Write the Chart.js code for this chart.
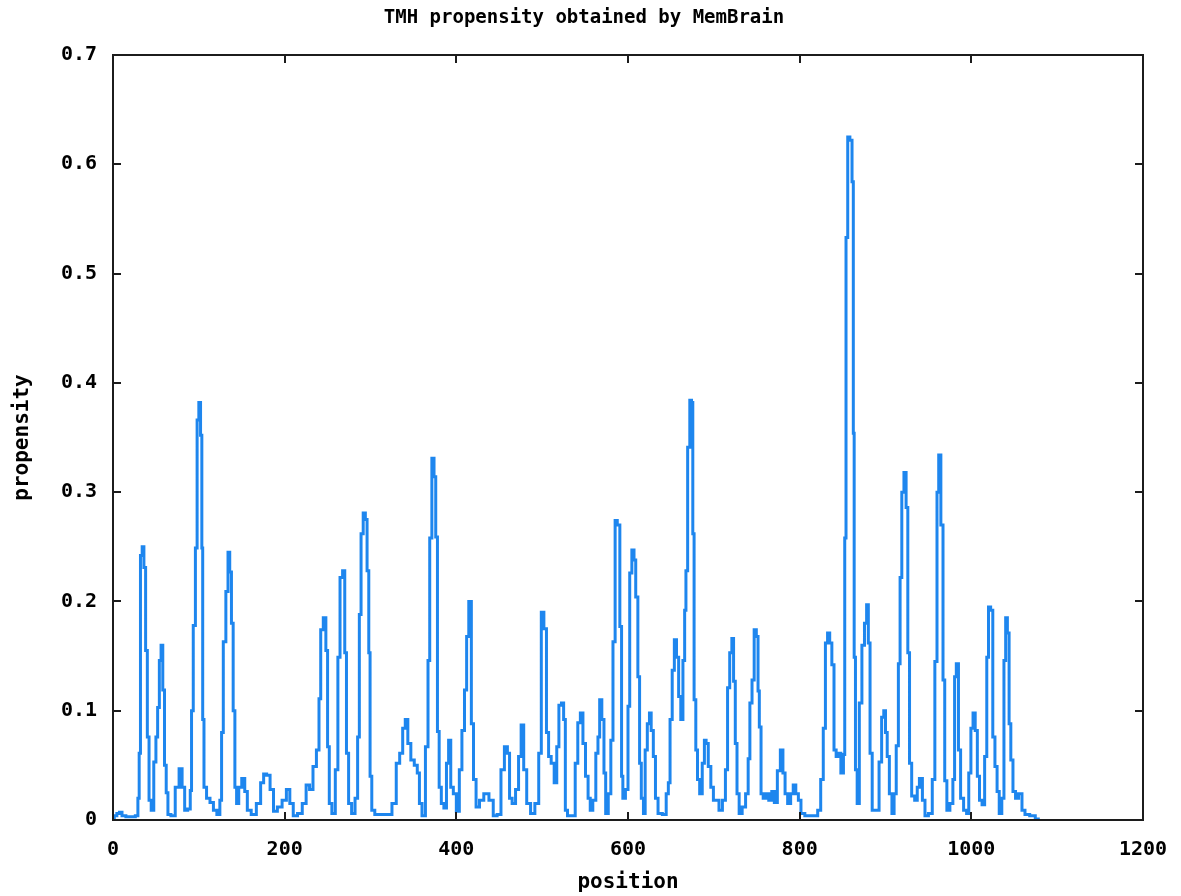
<!DOCTYPE html>
<html>
<head>
<meta charset="utf-8">
<title>TMH propensity obtained by MemBrain</title>
<script src="https://cdn.jsdelivr.net/npm/chart.js@4.4.1/dist/chart.umd.min.js"></script>
<style>
    html, body { margin: 0; padding: 0; background: #ffffff; }
    #wrap { width: 1181px; height: 896px; }
</style>
</head>
<body>
<div id="wrap"><canvas id="tmh-chart" width="1181" height="896"></canvas></div>
<script>
// Values (residue position -> propensity)
const positions = [
    0, 3, 6, 9, 12, 18, 24, 28, 30, 31, 33, 35, 37, 39, 41, 43, 46, 49, 51, 53,
    55, 57, 59, 61, 63, 65, 70, 75, 79, 82, 85, 89, 91, 92, 95, 97, 99, 101, 103, 104,
    105, 107, 111, 115, 119, 123, 126, 127, 130, 133, 135, 137, 139, 141, 143, 145, 148, 152, 155, 158,
    164, 170, 174, 177, 181, 185, 189, 194, 200, 204, 208, 212, 218, 223, 227, 231, 235, 239, 241, 243,
    247, 249, 251, 253, 257, 261, 263, 266, 269, 271, 273, 276, 280, 284, 286, 288, 290, 293, 295, 297,
    299, 300, 303, 307, 315, 322, 328, 332, 336, 339, 342, 345, 349, 353, 356, 358, 362, 366, 368, 370,
    373, 375, 377, 379, 381, 384, 387, 390, 392, 395, 398, 402, 405, 408, 411, 413, 416, 419, 421, 425,
    429, 435, 441, 445, 450, 454, 458, 461, 463, 467, 471, 474, 477, 480, 484, 489, 494, 498, 500, 504,
    506, 509, 512, 516, 518, 521, 524, 526, 528, 531, 537, 540, 543, 546, 549, 552, 555, 557, 561, 564,
    566, 568, 571, 573, 575, 579, 581, 584, 586, 589, 592, 593, 595, 599, 601, 603, 606, 608, 610, 613,
    614, 617, 619, 621, 624, 626, 628, 631, 633, 637, 643, 646, 648, 650, 653, 655, 658, 660, 663, 665,
    667, 668, 671, 673, 675, 676, 678, 680, 682, 685, 688, 690, 692, 695, 698, 701, 704, 708, 712, 715,
    717, 720, 722, 724, 726, 728, 731, 735, 739, 741, 743, 746, 748, 751, 752, 754, 756, 759, 762, 766,
    769, 772, 776, 779, 782, 784, 788, 791, 794, 797, 800, 803, 809, 819, 823, 826, 829, 831, 834, 836,
    839, 841, 844, 846, 850, 852, 853, 855, 857, 860, 862, 863, 864, 866, 868, 871, 874, 877, 879, 881,
    883, 886, 891, 894, 897, 899, 901, 903, 906, 909, 911, 914, 916, 918, 920, 923, 925, 927, 929, 932,
    936, 938, 941, 945, 947, 953, 956, 959, 961, 963, 966, 968, 970, 973, 977, 980, 981, 984, 986, 989,
    993, 996, 998, 1001, 1003, 1006, 1008, 1011, 1014, 1017, 1019, 1021, 1024, 1026, 1029, 1031, 1034, 1037, 1039, 1041,
    1043, 1045, 1047, 1050, 1053, 1057, 1061, 1064, 1072, 1077, 1079
];

const propensity = [
    0.002, 0.004, 0.006, 0.007, 0.004, 0.003, 0.003, 0.004, 0.020, 0.061, 0.242, 0.250, 0.231, 0.155, 0.076, 0.018, 0.009, 0.053, 0.076, 0.103,
    0.146, 0.160, 0.119, 0.050, 0.025, 0.005, 0.004, 0.030, 0.047, 0.030, 0.009, 0.010, 0.027, 0.100, 0.178, 0.249, 0.366, 0.382, 0.352, 0.249,
    0.092, 0.030, 0.020, 0.016, 0.009, 0.005, 0.018, 0.080, 0.163, 0.209, 0.245, 0.227, 0.180, 0.100, 0.030, 0.015, 0.030, 0.038, 0.026, 0.009,
    0.005, 0.015, 0.034, 0.042, 0.041, 0.028, 0.008, 0.012, 0.018, 0.028, 0.015, 0.004, 0.006, 0.015, 0.032, 0.028, 0.049, 0.064, 0.111, 0.174,
    0.185, 0.155, 0.067, 0.015, 0.006, 0.046, 0.149, 0.222, 0.228, 0.153, 0.061, 0.015, 0.006, 0.020, 0.076, 0.188, 0.262, 0.281, 0.275, 0.228,
    0.153, 0.040, 0.009, 0.005, 0.005, 0.005, 0.015, 0.052, 0.061, 0.084, 0.092, 0.070, 0.055, 0.050, 0.043, 0.015, 0.004, 0.067, 0.146, 0.258,
    0.331, 0.314, 0.259, 0.081, 0.030, 0.015, 0.011, 0.052, 0.073, 0.030, 0.024, 0.008, 0.046, 0.082, 0.119, 0.168, 0.200, 0.088, 0.037, 0.012,
    0.018, 0.024, 0.018, 0.004, 0.005, 0.046, 0.067, 0.061, 0.020, 0.015, 0.028, 0.058, 0.087, 0.046, 0.015, 0.006, 0.015, 0.061, 0.190, 0.175,
    0.080, 0.058, 0.052, 0.034, 0.067, 0.105, 0.107, 0.092, 0.009, 0.004, 0.004, 0.052, 0.089, 0.098, 0.070, 0.040, 0.020, 0.009, 0.018, 0.061,
    0.076, 0.110, 0.092, 0.043, 0.006, 0.024, 0.073, 0.163, 0.274, 0.270, 0.177, 0.040, 0.020, 0.028, 0.104, 0.226, 0.247, 0.238, 0.204, 0.131,
    0.052, 0.020, 0.006, 0.064, 0.088, 0.098, 0.082, 0.058, 0.020, 0.006, 0.005, 0.024, 0.034, 0.092, 0.137, 0.165, 0.149, 0.113, 0.092, 0.146,
    0.192, 0.228, 0.341, 0.384, 0.382, 0.262, 0.110, 0.064, 0.037, 0.024, 0.052, 0.073, 0.070, 0.049, 0.030, 0.018, 0.018, 0.009, 0.018, 0.046,
    0.121, 0.153, 0.166, 0.127, 0.070, 0.024, 0.006, 0.012, 0.024, 0.056, 0.107, 0.128, 0.174, 0.168, 0.118, 0.085, 0.024, 0.020, 0.024, 0.018,
    0.026, 0.016, 0.045, 0.064, 0.043, 0.024, 0.015, 0.024, 0.032, 0.024, 0.018, 0.006, 0.004, 0.004, 0.009, 0.037, 0.084, 0.162, 0.171, 0.162,
    0.142, 0.064, 0.058, 0.061, 0.043, 0.060, 0.258, 0.533, 0.625, 0.622, 0.584, 0.354, 0.149, 0.046, 0.015, 0.107, 0.160, 0.180, 0.197, 0.162,
    0.061, 0.009, 0.009, 0.053, 0.094, 0.100, 0.080, 0.058, 0.024, 0.006, 0.024, 0.068, 0.143, 0.222, 0.300, 0.318, 0.286, 0.153, 0.052, 0.022,
    0.018, 0.030, 0.038, 0.018, 0.004, 0.006, 0.037, 0.145, 0.300, 0.334, 0.270, 0.128, 0.036, 0.009, 0.015, 0.037, 0.131, 0.143, 0.064, 0.020,
    0.009, 0.006, 0.043, 0.084, 0.098, 0.082, 0.040, 0.018, 0.014, 0.058, 0.149, 0.195, 0.192, 0.076, 0.049, 0.026, 0.006, 0.020, 0.146, 0.185,
    0.171, 0.088, 0.055, 0.026, 0.020, 0.024, 0.009, 0.005, 0.004, 0.001, 0.000
];

const xTickLabels = ['0', '200', '400', '600', '800', '1000', '1200'];
const yTickLabels = ['0', '0.1', '0.2', '0.3', '0.4', '0.5', '0.6', '0.7'];
const chartTitle = 'TMH propensity obtained by MemBrain';

const MONO = '"DejaVu Sans Mono", "Liberation Mono", monospace';

// gnuplot style frame: full border with inward tick marks on all four sides, plus the title
const framePlugin = {
    id: 'gnuplotFrame',
    afterDatasetsDraw(chart) {
        const { ctx, chartArea: a, scales } = chart;
        const len = 8;
        ctx.save();
        ctx.strokeStyle = '#1c1c1c';
        ctx.lineWidth = 2;
        ctx.beginPath();
        scales.x.ticks.forEach(t => {
            const px = Math.round(scales.x.getPixelForValue(t.value));
            ctx.moveTo(px, a.bottom); ctx.lineTo(px, a.bottom - len);
            ctx.moveTo(px, a.top); ctx.lineTo(px, a.top + len);
        });
        scales.y.ticks.forEach(t => {
            const py = Math.round(scales.y.getPixelForValue(t.value));
            ctx.moveTo(a.left, py); ctx.lineTo(a.left + len, py);
            ctx.moveTo(a.right, py); ctx.lineTo(a.right - len, py);
        });
        ctx.stroke();
        ctx.strokeRect(a.left, a.top, a.right - a.left, a.bottom - a.top);

        ctx.fillStyle = '#000';
        ctx.font = 'bold 19px ' + MONO;
        ctx.textAlign = 'center';
        ctx.textBaseline = 'middle';
        ctx.fillText(chartTitle, 584, 18);
        ctx.restore();
    }
};

const ctx = document.getElementById('tmh-chart').getContext('2d');
new Chart(ctx, {
    type: 'line',
    data: {
        datasets: [{
            label: 'propensity',
            data: positions.map((p, i) => ({ x: p, y: propensity[i] })),
            borderColor: '#1e86ee',
            borderWidth: 3,
            pointRadius: 0,
            stepped: 'middle',
            fill: false
        }]
    },
    options: {
        responsive: false,
        animation: false,
        devicePixelRatio: 1,
        layout: { padding: { left: 0, right: 38, top: 55, bottom: 0 } },
        scales: {
            x: {
                type: 'linear',
                min: 0,
                max: 1200,
                grid: { display: false, drawTicks: false },
                border: { display: false },
                ticks: {
                    stepSize: 200,
                    padding: 18,
                    color: '#000',
                    font: { family: MONO, size: 20, weight: 'bold' },
                    callback: (value, index) => xTickLabels[index]
                },
                title: {
                    display: true,
                    text: 'position',
                    color: '#000',
                    font: { family: MONO, size: 21, weight: 'bold' },
                    padding: { top: 0, bottom: 1 }
                },
                afterFit(scale) {
                    scale.height = 76;
                    // let the layout padding alone decide the right edge of the plot
                    scale.paddingLeft = 0;
                    scale.paddingRight = 0;
                }
            },
            y: {
                min: 0,
                max: 0.7,
                grid: { display: false, drawTicks: false },
                border: { display: false },
                ticks: {
                    stepSize: 0.1,
                    padding: 16,
                    color: '#000',
                    font: { family: MONO, size: 20, weight: 'bold' },
                    callback: (value, index) => yTickLabels[index]
                },
                title: {
                    display: true,
                    text: 'propensity',
                    color: '#000',
                    font: { family: MONO, size: 21, weight: 'bold' },
                    padding: { top: 10, bottom: 0 }
                },
                afterFit(scale) { scale.width = 113; }
            }
        },
        plugins: {
            legend: { display: false },
            tooltip: { enabled: false },
            title: { display: false }
        }
    },
    plugins: [framePlugin]
});
</script>
</body>
</html>
